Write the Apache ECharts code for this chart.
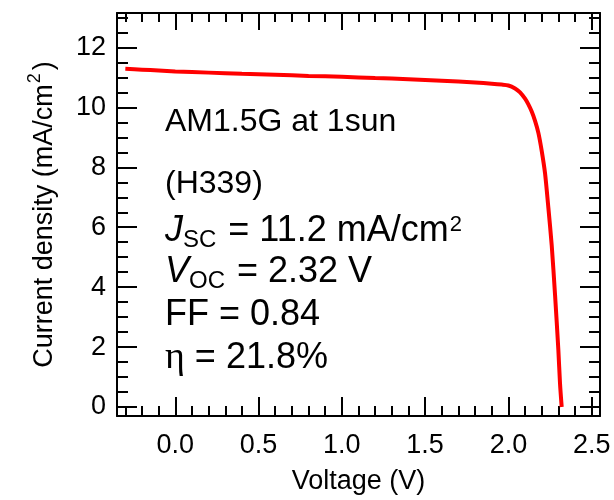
<!DOCTYPE html>
<html>
<head>
<meta charset="utf-8">
<style>
  html, body { margin: 0; padding: 0; background: #fff; }
  #chart { width: 614px; height: 500px; }
</style>
<script src="https://cdn.jsdelivr.net/npm/echarts@6/dist/echarts.min.js"></script>
</head>
<body>
<div id="chart"></div>
<script>
// J–V curve of the cell under AM1.5G illumination
const voltage = [-0.30, -0.20, -0.10, 0.00, 0.20, 0.40, 0.60, 0.80, 1.00, 1.20, 1.40, 1.60, 1.80, 1.90, 1.96, 2.00, 2.04, 2.07, 2.10, 2.12, 2.14, 2.16, 2.18, 2.20, 2.22, 2.24, 2.26, 2.28, 2.30, 2.31, 2.32];
const currentDensity = [11.29, 11.26, 11.23, 11.20, 11.16, 11.12, 11.09, 11.05, 11.02, 10.98, 10.94, 10.89, 10.83, 10.79, 10.76, 10.73, 10.63, 10.50, 10.29, 10.10, 9.86, 9.55, 9.15, 8.55, 7.80, 6.65, 5.40, 3.75, 1.90, 0.78, 0.00];

// Axis ticks
const xMajorTicks = [0.0, 0.5, 1.0, 1.5, 2.0, 2.5];
const xMinorTicks = [-0.3, -0.2, -0.1, 0.1, 0.2, 0.3, 0.4, 0.6, 0.7, 0.8, 0.9, 1.1, 1.2, 1.3, 1.4, 1.6, 1.7, 1.8, 1.9, 2.1, 2.2, 2.3, 2.4];
const yMajorTicks = [0, 2, 4, 6, 8, 10, 12];
const yMinorTicks = [0.5, 1, 1.5, 2.5, 3, 3.5, 4.5, 5, 5.5, 6.5, 7, 7.5, 8.5, 9, 9.5, 10.5, 11, 11.5, 12.5, 13];

// Annotation lines
const conditionText = 'AM1.5G at 1sun';
const deviceText = '(H339)';
const jscValue = '11.2 mA/cm';
const vocValue = '2.32 V';
const ffValue = '0.84';
const etaValue = '21.8%';

const X_MIN = -0.35, X_MAX = 2.55;
const Y_MIN = -0.3, Y_MAX = 13.15;
const FONT = '"Liberation Sans", Arial, Helvetica, sans-serif';

const chart = echarts.init(document.getElementById('chart'), null, { renderer: 'canvas' });

function xAxisDef(position, ticks, len, withLabels, showLine) {
  return {
    type: 'value', position, min: X_MIN, max: X_MAX,
    axisLine: { show: showLine, onZero: false, lineStyle: { color: '#000', width: 2 } },
    axisTick: { show: true, inside: true, length: len, customValues: ticks, lineStyle: { color: '#000', width: 2 } },
    axisLabel: withLabels ? {
      show: true, customValues: ticks, margin: 16, color: '#000', fontSize: 27, fontFamily: FONT,
      formatter: v => v.toFixed(1)
    } : { show: false },
    splitLine: { show: false }
  };
}
function yAxisDef(position, ticks, len, withLabels, showLine) {
  return {
    type: 'value', position, min: Y_MIN, max: Y_MAX,
    axisLine: { show: showLine, onZero: false, lineStyle: { color: '#000', width: 2 } },
    axisTick: { show: true, inside: true, length: len, customValues: ticks, lineStyle: { color: '#000', width: 2 } },
    axisLabel: withLabels ? {
      show: true, customValues: ticks, margin: 11, color: '#000', fontSize: 27, fontFamily: FONT,
      formatter: v => String(v)
    } : { show: false },
    splitLine: { show: false }
  };
}

const xAxes = [
  xAxisDef('bottom', xMajorTicks, 19, true, true),
  xAxisDef('bottom', xMinorTicks, 10, false, false),
  xAxisDef('top', xMajorTicks, 17, false, true),
  xAxisDef('top', xMinorTicks, 9, false, false)
];
xAxes[0].name = 'Voltage (V)';
xAxes[0].nameLocation = 'middle';
xAxes[0].nameGap = 52;
xAxes[0].nameTextStyle = { color: '#000', fontSize: 27, fontFamily: FONT };

const yAxes = [
  yAxisDef('left', yMajorTicks, 20, true, true),
  yAxisDef('left', yMinorTicks, 11, false, false),
  yAxisDef('right', yMajorTicks, 20, false, true),
  yAxisDef('right', yMinorTicks, 11, false, false)
];
yAxes[0].name = 'Current density (mA/cm{sup|2})';
yAxes[0].nameLocation = 'middle';
yAxes[0].nameGap = 53;
yAxes[0].nameTextStyle = {
  color: '#000', fontSize: 27, fontFamily: FONT,
  rich: { sup: { fontSize: 18, fontFamily: FONT, color: '#000', padding: [0, 3, 20, 1] } }
};

const richStyles = {
  s: { fontSize: 32, fontFamily: FONT, color: '#000', lineHeight: 40 },
  n: { fontSize: 36, fontFamily: FONT, color: '#000', lineHeight: 40 },
  i: { fontSize: 36, fontFamily: FONT, fontStyle: 'italic', color: '#000', lineHeight: 40 },
  sub: { fontSize: 24, fontFamily: FONT, color: '#000', lineHeight: 40, padding: [18, 2, 0, 0] },
  sup: { fontSize: 22, fontFamily: FONT, color: '#000', lineHeight: 40, padding: [0, 0, 12, 1] },
  eta: { fontSize: 38, fontFamily: '"Liberation Serif", "Times New Roman", serif', color: '#000', lineHeight: 40 }
};

function note(text, top) {
  return {
    type: 'text', left: 165, top: top, z: 10,
    style: { text: text, rich: richStyles, fill: '#000' }
  };
}

chart.setOption({
  animation: false,
  backgroundColor: '#fff',
  grid: { left: 117, right: 14, top: 13, bottom: 79, containLabel: false },
  xAxis: xAxes,
  yAxis: yAxes,
  series: [{
    type: 'line',
    data: voltage.map((v, k) => [v, currentDensity[k]]),
    xAxisIndex: 0, yAxisIndex: 0,
    showSymbol: false, smooth: 0.25,
    lineStyle: { color: '#ff0000', width: 4 },
    z: 5
  }],
  graphic: [
    note('{s|' + conditionText + '}', 106),
    note('{s|' + deviceText + '}', 168),
    note('{i|J}{sub|SC}{n| = ' + jscValue + '}{sup|2}', 210),
    note('{i|V}{sub|OC}{n| = ' + vocValue + '}', 251),
    note('{n|FF = ' + ffValue + '}', 297),
    note('{eta|η}{n| = ' + etaValue + '}', 339)
  ]
});
</script>
</body>
</html>
